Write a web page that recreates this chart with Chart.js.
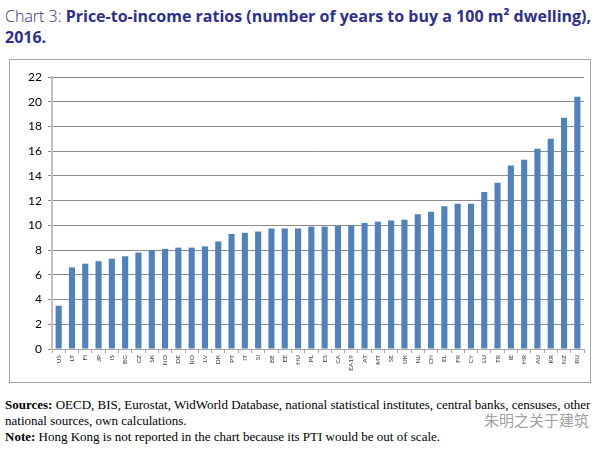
<!DOCTYPE html>
<html>
<head>
<meta charset="utf-8">
<script src="https://cdn.jsdelivr.net/npm/chart.js@4"></script>
<style>
  body { margin: 0; background: #fff; width: 613px; height: 449px; position: relative; overflow: hidden; }
  #title { position: absolute; left: 5px; top: 6px; width: 605px; font-family: "Open Sans", sans-serif; font-size: 16px; line-height: 21px; color: #2e2f8c; }
  #title .lead { font-weight: 300; }
  #title b { font-weight: 700; }
  #box { position: absolute; left: 9px; top: 59px; width: 580px; height: 322px; border: 1px solid #a6a6a6; }
  #box canvas { display: block; }
  #notes { position: absolute; left: 5px; top: 397px; width: 608px; font-family: "Liberation Serif", serif; font-size: 13px; line-height: 16px; color: #000; }
  #wm { position: absolute; left: 484px; top: 409px; font-family: "Noto Sans CJK SC", sans-serif; font-size: 15px; color: #a0a0a0; }
</style>
</head>
<body>
<div id="title"><span class="lead">Chart 3: </span><b>Price-to-income ratios (number of years to buy a 100 m² dwelling), 2016.</b></div>
<div id="box"><canvas id="chart" width="580" height="322"></canvas></div>
<div id="notes"><b>Sources:</b> OECD, BIS, Eurostat, WidWorld Database, national statistical institutes, central banks, censuses, other national sources, own calculations.<br><b>Note:</b> Hong Kong is not reported in the chart because its PTI would be out of scale.</div>
<div id="wm">朱明之关于建筑</div>
<script>
// 國家代碼
const countries = ['US', 'LT', 'FI', 'JP', 'IS', 'BG', 'CZ', 'SK', 'NO', 'DE', 'RO', 'LV', 'DK', 'PT', 'IT', 'SI', 'BE', 'EE', 'HU', 'PL',
  'ES', 'CA', 'EA19', 'AT', 'MT', 'SE', 'UK', 'NL', 'CH', 'EL', 'FR', 'CY', 'LU', 'TR', 'IE', 'HR', 'AU', 'KR', 'NZ', 'RU'];

// 房價收入比 (年)
const ptiValues = [3.5, 6.6, 6.9, 7.1, 7.3, 7.5, 7.8, 8.0, 8.1, 8.2, 8.2, 8.3, 8.7, 9.3, 9.4, 9.5, 9.75, 9.75, 9.75, 9.9,
  9.9, 9.95, 10.0, 10.2, 10.3, 10.4, 10.45, 10.9, 11.1, 11.55, 11.75, 11.75, 12.7, 13.45, 14.85, 15.3, 16.2, 17.0, 18.7, 20.4];

// y 軸刻度
const yTicks = { min: 0, max: 22, step: 2 };

var ctx = document.getElementById('chart').getContext('2d');

var barChart = new Chart(ctx, {
  type: 'bar',
  data: {
    labels: countries,
    datasets: [{
      data: ptiValues,
      backgroundColor: '#4f81bd',
      borderWidth: 0,
      categoryPercentage: 1.0,
      barPercentage: 0.46
    }]
  },
  options: {
    responsive: false,
    animation: false,
    layout: { padding: { top: 17, right: 6, left: 0, bottom: 0 } },
    plugins: {
      legend: { display: false },
      tooltip: { enabled: false }
    },
    scales: {
      x: {
        grid: { display: true, drawOnChartArea: false, color: '#a6a6a6', tickLength: 4 },
        border: { color: '#a6a6a6', width: 1 },
        ticks: {
          autoSkip: false,
          minRotation: 90,
          maxRotation: 90,
          padding: 2,
          color: '#404040',
          font: { family: 'Lato, sans-serif', size: 6.5 }
        },
        afterFit: function (scale) { scale.height = 33; }
      },
      y: {
        min: yTicks.min,
        max: yTicks.max,
        grid: { color: '#8c8c8c', lineWidth: 1, tickLength: 4 },
        border: { color: '#bfbfbf', width: 2 },
        ticks: {
          stepSize: yTicks.step,
          padding: 6,
          color: '#000',
          font: { family: 'Lato, sans-serif', size: 12 }
        },
        afterFit: function (scale) { scale.width = 42; }
      }
    }
  }
});
</script>
</body>
</html>
